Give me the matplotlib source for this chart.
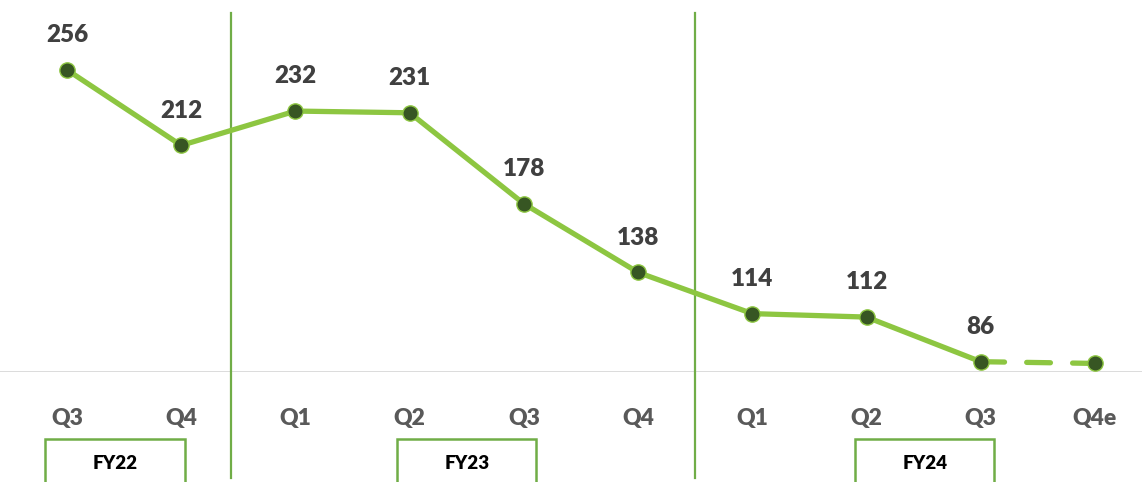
import matplotlib
matplotlib.use("Agg")
from matplotlib import pyplot as plt
from matplotlib.patches import Rectangle
import matplotlib.transforms as mtransforms

plt.rcParams['font.family'] = ['Lato', 'DejaVu Sans']

quarters = ['Q3', 'Q4', 'Q1', 'Q2', 'Q3', 'Q4', 'Q1', 'Q2', 'Q3', 'Q4e']
values = [256, 212, 232, 231, 178, 138, 114, 112, 86, 85]
labels = ['256', '212', '232', '231', '178', '138', '114', '112', '86', '']
fiscal_years = ['FY22', 'FY23', 'FY24']
fy_box_left = [-0.19, 2.89, 6.90]
fy_box_width = 1.22
separators = [1.44, 5.5]

line_green = '#8DC641'
dark_green = '#375623'
sep_green = '#70AD47'

fig = plt.figure(figsize=(11.42, 4.82), dpi=100)
ax = fig.add_axes([0, 110 / 482, 1, 372 / 482])

x = list(range(len(values)))
ax.plot(x[:-1], values[:-1], color=line_green, lw=3.8, solid_capstyle='round', zorder=2)
ax.plot(x[-2:], values[-2:], color=line_green, lw=3.8, dashes=(4.5, 4.2),
        dash_capstyle='round', zorder=2)
ax.plot(x, values, 'o', ms=11, mfc=dark_green, mec=line_green, mew=1, zorder=3)

for xi, v, lab in zip(x, values, labels):
    if lab:
        ax.annotate(lab, (xi, v), xytext=(0, 25), textcoords='offset points',
                    ha='center', va='center', fontsize=17.5, fontweight='heavy',
                    color='#404040')

ax.set_xlim(-67 / 114.2, 9 + 47 / 114.2)
ax.set_ylim(80, 296.7)
ax.axhline(80, color='#D9D9D9', lw=1.3, zorder=1)

ax.set_xticks(x)
ax.set_xticklabels(quarters, fontsize=16.5, fontweight='heavy', color='#595959')
ax.tick_params(axis='x', length=0, pad=26)
ax.set_yticks([])
for s in ax.spines.values():
    s.set_visible(False)

trans = mtransforms.blended_transform_factory(ax.transData, ax.transAxes)
for sx in separators:
    ax.plot([sx, sx], [-0.285, 0.965], transform=trans, color=sep_green,
            lw=1.6, clip_on=False, zorder=1)

for fy, left in zip(fiscal_years, fy_box_left):
    ax.add_patch(Rectangle((left, -0.40), fy_box_width, 0.22, transform=trans,
                           fill=False, edgecolor=sep_green, lw=1.8, clip_on=False))
    ax.text(left + fy_box_width / 2, -0.245, fy, transform=trans, ha='center',
            va='center', fontsize=13.5, fontweight='heavy', color='black')

fig.savefig('out.png', dpi=100)
